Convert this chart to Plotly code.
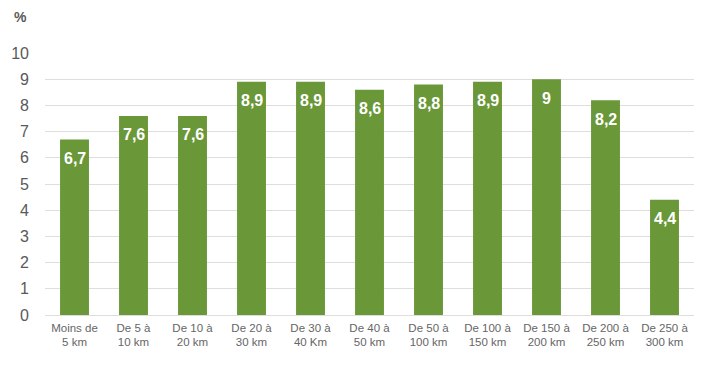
import plotly.graph_objects as go

categories = ["Moins de<br>5 km", "De 5 à<br>10 km", "De 10 à<br>20 km", "De 20 à<br>30 km",
              "De 30 à<br>40 Km", "De 40 à<br>50 km", "De 50 à<br>100 km", "De 100 à<br>150 km",
              "De 150 à<br>200 km", "De 200 à<br>250 km", "De 250 à<br>300 km"]
values = [6.7, 7.6, 7.6, 8.9, 8.9, 8.6, 8.8, 8.9, 9.0, 8.2, 4.4]
labels = [("%g" % v).replace(".", ",") for v in values]
y_ticks = list(range(0, 11))

fig = go.Figure(go.Bar(
    x=categories, y=values,
    marker=dict(color="#6a9838", line=dict(width=0)),
    hoverinfo="x+y",
))

annots = [dict(x=c, y=v, text="<b>%s</b>" % t, xref="x", yref="y", showarrow=False,
               yanchor="middle", yshift=-19,
               font=dict(color="white", size=16, family="Liberation Sans"))
          for c, v, t in zip(categories, values, labels)]
annots.append(dict(text="<b>%</b>", xref="paper", yref="paper", x=-0.037, y=1.137,
                   xanchor="center", yanchor="middle", showarrow=False,
                   font=dict(size=14, color="#595959")))

fig.update_layout(
    width=711, height=370,
    margin=dict(l=37, r=25, t=45, b=63),
    plot_bgcolor="white", paper_bgcolor="white",
    bargap=0.51,
    showlegend=False,
    font=dict(family="Liberation Sans", color="#595959"),
    annotations=annots,
)
fig.update_xaxes(tickfont=dict(size=11.5, color="#666666"), showline=False, ticks="",
                 automargin=False, ticklabelstandoff=4)
fig.update_yaxes(range=[0, 10], tickvals=y_ticks, tickfont=dict(size=16, color="#595959"),
                 showgrid=True, gridcolor="#dedede", gridwidth=1,
                 zeroline=True, zerolinecolor="#dedede", zerolinewidth=1, ticks="",
                 ticklabelstandoff=15, automargin=False)

fig.write_html("out.html")
